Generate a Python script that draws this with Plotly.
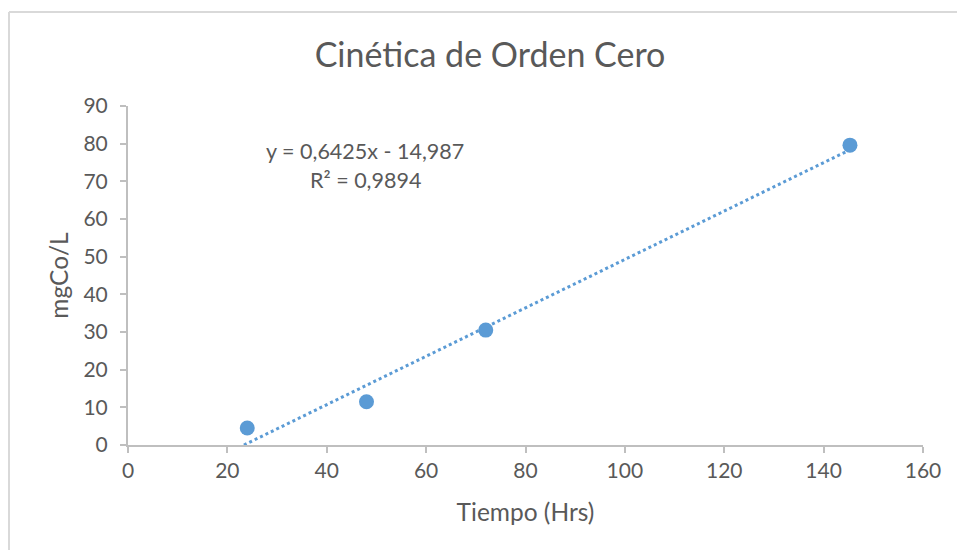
import plotly.graph_objects as go

# Data
tiempo_hrs = [24, 48, 72, 145.3]
mg_co_l = [4.5, 11.5, 30.5, 79.6]

# Linear trendline (Excel)
slope = 0.6425
intercept = -14.987
eq_text = "y = 0,6425x - 14,987"
r2_text = "R² = 0,9894"

x_ticks = [0, 20, 40, 60, 80, 100, 120, 140, 160]
y_ticks = [0, 10, 20, 30, 40, 50, 60, 70, 80, 90]

FONT = "Lato"
TXT = "#595959"
BLUE = "#5B9BD5"
AXIS = "#BFBFBF"

x0 = -intercept / slope
x1 = max(tiempo_hrs)
trend_x = [x0, x1]
trend_y = [slope * v + intercept for v in trend_x]

fig = go.Figure()
fig.add_trace(go.Scatter(x=trend_x, y=trend_y, mode="lines",
                         line=dict(color=BLUE, width=3, dash="dot"),
                         hoverinfo="skip", showlegend=False))
fig.add_trace(go.Scatter(x=tiempo_hrs, y=mg_co_l, mode="markers",
                         marker=dict(color=BLUE, size=15),
                         showlegend=False))

fig.add_annotation(x=47.7, y=78.0, xref="x", yref="y", text=eq_text,
                   showarrow=False, font=dict(family=FONT, size=21.5, color=TXT))
fig.add_annotation(x=47.7, y=70.3, xref="x", yref="y", text=r2_text,
                   showarrow=False, font=dict(family=FONT, size=21.5, color=TXT))

W, H = 957, 550
L, R, T, B = 128, 34, 106, 105
pw, ph = W - L - R, H - T - B
bx = (9 - L) / pw
by = 1 + (T - 12) / ph
fig.add_shape(type="line", xref="paper", yref="paper", x0=bx, x1=bx, y0=-B / ph, y1=by,
              line=dict(color="#D9D9D9", width=2))
fig.add_shape(type="line", xref="paper", yref="paper", x0=bx, x1=1 + R / pw, y0=by, y1=by,
              line=dict(color="#D9D9D9", width=2))

fig.update_layout(
    width=W, height=H,
    margin=dict(l=L, r=R, t=T, b=B, autoexpand=False),
    paper_bgcolor="white", plot_bgcolor="white",
    font=dict(family=FONT, color=TXT),
    title=dict(text="Cinética de Orden Cero", x=490 / W, xanchor="center",
               y=1 - 55 / H, yanchor="middle",
               font=dict(family=FONT, size=34, color=TXT)),
    xaxis=dict(range=[0, 160], tickvals=x_ticks, showgrid=False, zeroline=False,
               showline=True, linecolor=AXIS, linewidth=2,
               ticks="outside", ticklen=6, tickcolor=AXIS, tickwidth=2,
               tickfont=dict(family=FONT, size=21, color=TXT),
               title=dict(text="Tiempo (Hrs)", standoff=23,
                          font=dict(family=FONT, size=24.5, color=TXT))),
    yaxis=dict(range=[0, 90], tickvals=y_ticks, showgrid=False, zeroline=False,
               showline=True, linecolor=AXIS, linewidth=2,
               ticks="outside", ticklen=6, tickcolor=AXIS, tickwidth=2,
               ticklabelstandoff=8,
               tickfont=dict(family=FONT, size=21, color=TXT),
               title=dict(text="mgCo/L", standoff=8,
                          font=dict(family=FONT, size=24.5, color=TXT))),
)

fig.write_html("out.html", config={"displayModeBar": False},
               post_script="document.body.style.margin='0';document.body.style.overflow='hidden';")
